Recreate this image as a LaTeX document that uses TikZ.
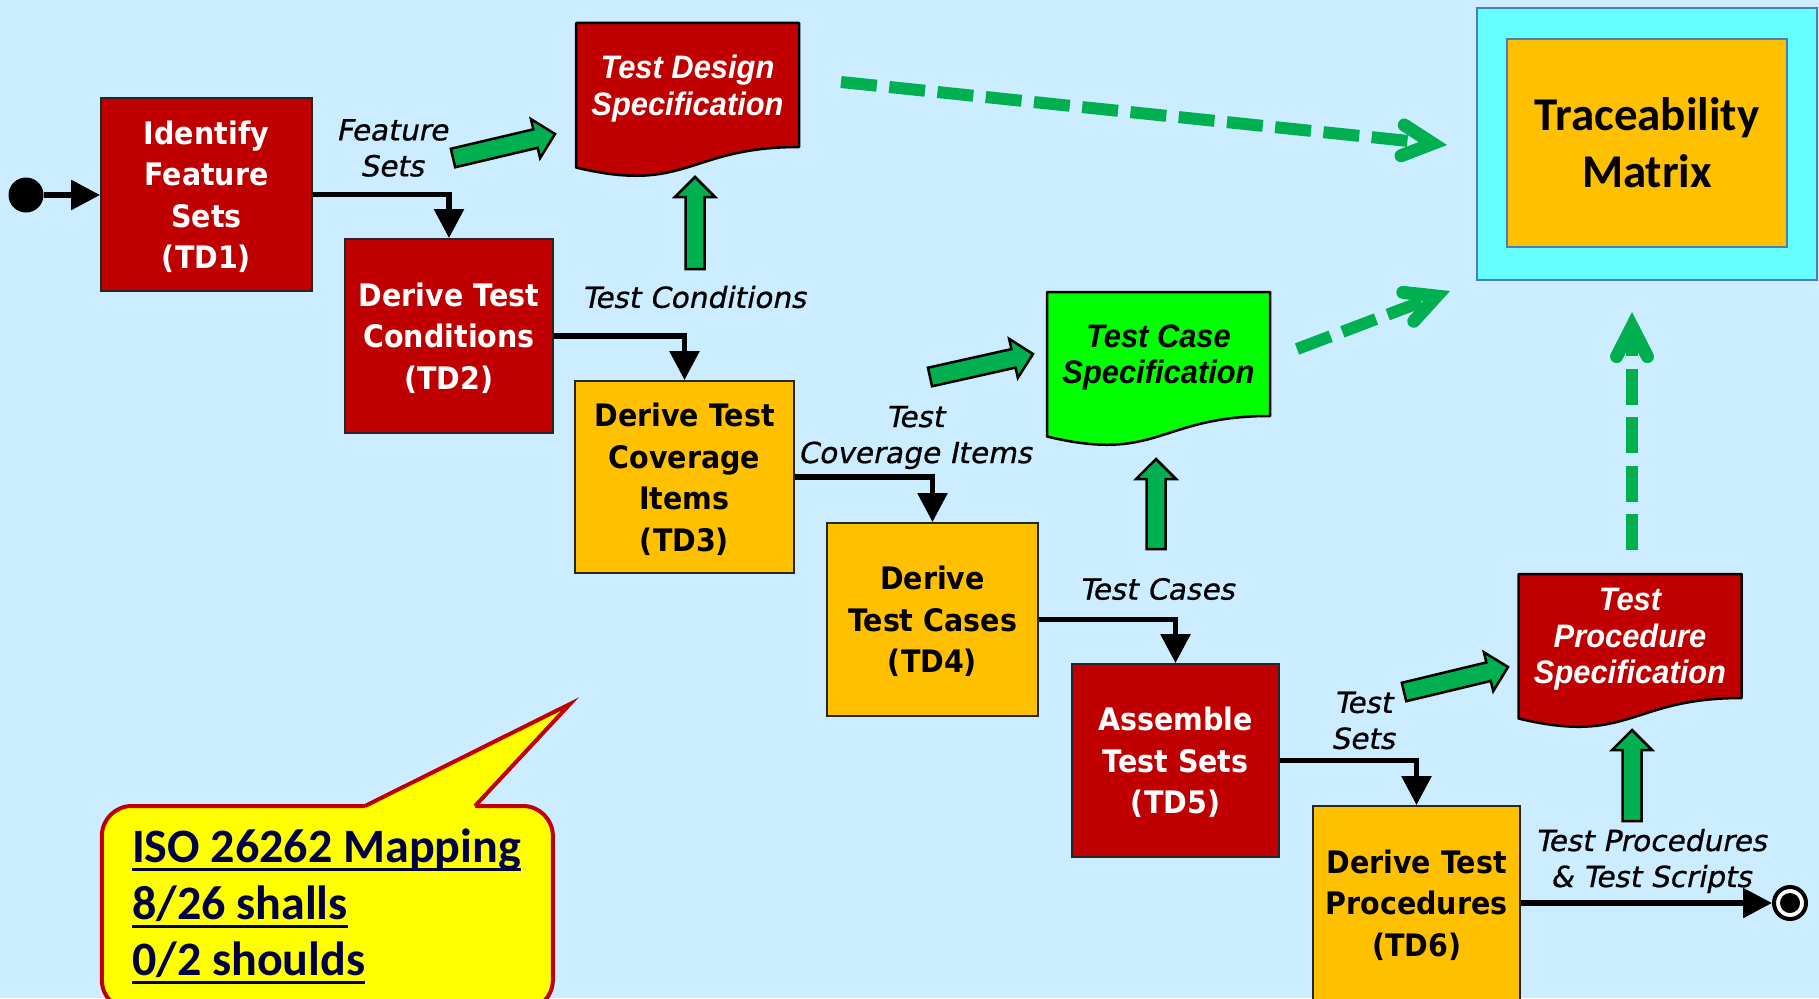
\documentclass[tikz,border=0pt]{standalone}
\usepackage{fontspec}
\usetikzlibrary{arrows.meta,calc}

% Fonts
\newfontfamily\boxfont[FakeStretch=0.92]{DejaVu Sans}
\newfontfamily\tagfont[FakeStretch=1.02,FakeSlant=0.2,FakeBold=0.8]{DejaVu Sans}
\newfontfamily\sheetfont[FakeStretch=0.95]{Liberation Sans}
\newfontfamily\calfont{Carlito}

% Colours
\definecolor{bgblue}{HTML}{CCECFF}
\definecolor{boxred}{HTML}{C00000}
\definecolor{boxorange}{HTML}{FFC000}
\definecolor{arrowgreen}{HTML}{00B050}
\definecolor{docgreen}{HTML}{00FF00}
\definecolor{tmcyan}{HTML}{66FFFF}
\definecolor{tmedge}{HTML}{4A7EBB}
\definecolor{navytext}{HTML}{000040}
\definecolor{noteyellow}{HTML}{FFFF00}

\pgfdeclarelayer{canvas}
\pgfdeclarelayer{sheets}
\pgfsetlayers{canvas,sheets,main}

% underline at a fixed distance below the baseline
\newsavebox\ulbox
\newcommand\ulinetext[1]{\sbox\ulbox{#1}\rlap{\rule[-8.5pt]{\wd\ulbox}{3pt}}\usebox\ulbox}

\tikzset{
  flow/.style={draw=black, line width=5.5pt, -{Triangle[length=29pt,width=29pt]}},
  task/.style={draw=black!85, line width=1.8pt, align=center, inner sep=0pt,
    font=\boxfont\bfseries\fontsize{31}{41.5}\selectfont, text depth=-3pt},
  redtask/.style={task, fill=boxred, text=white},
  ambertask/.style={task, fill=boxorange, text=black},
  tag/.style={align=center, inner sep=0pt, text=black,
    font=\tagfont\fontsize{29}{36}\selectfont},
  sheet/.style={minimum width=223pt, minimum height=124pt, inner sep=0pt, outer sep=0pt,
    align=center, font=\sheetfont\bfseries\itshape\fontsize{32.5}{36.5}\selectfont,
    text depth=-1pt},
  sheetedge/.style={draw=black, line width=2.5pt, line join=round},
  fatarrow/.style={draw=black, fill=arrowgreen, line width=2.5pt, line join=miter},
  tracelink/.style={draw=arrowgreen, line width=12pt, dash pattern=on 36pt off 12.5pt},
  tracehead/.style={draw=arrowgreen, line width=13pt, line cap=round, line join=miter},
}

% green block arrow from #1 (tail) to #2 (tip)
\newcommand\fatarrow[2]{%
  \filldraw[fatarrow] let \p1=(#1), \p2=(#2),
      \n1={atan2(\y2-\y1,\x2-\x1)},
      \n2={veclen(\x2-\x1,\y2-\y1)-20pt} in
    ($(\p1)+(\n1+90:9.5pt)$) --
    ($(\p1)+(\n1:\n2)+(\n1+90:9.5pt)$) --
    ($(\p1)+(\n1:\n2)+(\n1+90:20pt)$) --
    (\p2) --
    ($(\p1)+(\n1:\n2)+(\n1-90:20pt)$) --
    ($(\p1)+(\n1:\n2)+(\n1-90:9.5pt)$) --
    ($(\p1)+(\n1-90:9.5pt)$) -- cycle;}

% dashed trace link with open chevron head, from #1 to #2
\newcommand\tracearrow[2]{%
  \coordinate (apex) at ($(#2)!14.3pt!(#1)$);
  \draw[tracelink] (#1) -- (apex);
  \draw[tracehead] ($(apex)!34pt!27:(#1)$) -- (apex) -- ($(apex)!34pt!-27:(#1)$);}

% document sheet with wavy lower edge around node #1
\newcommand\sheetoutline[2]{%
  \filldraw[sheetedge, fill=#2] (#1.north west) -- (#1.north east) -- (#1.south east)
    .. controls (#1.south) and ($(#1.south)+(0,47.4)$) .. ($(#1.south west)+(0,20.5)$) -- cycle;}

\begin{document}
\begin{tikzpicture}[x=1pt, y=-1pt]
\useasboundingbox (0,0) rectangle (1819,998);
\begin{pgfonlayer}{canvas}
  \fill[bgblue] (0,0) rectangle (1819,998);
\end{pgfonlayer}
\clip (0,0) rectangle (1819,998);

% traceability matrix
\node[draw=tmedge, line width=2pt, fill=tmcyan, minimum width=340pt, minimum height=272pt] (tmframe) at (1647,144) {};
\node[draw=tmedge, line width=2pt, fill=boxorange, minimum width=280pt, minimum height=207pt,
      align=center, font=\calfont\bfseries\fontsize{47}{57}\selectfont] (tm) at (1647,143) {Traceability\\Matrix};

% process steps
\node[redtask, minimum width=211pt, minimum height=193pt] (td1) at (206.5,194.5) {Identify\\Feature\\Sets\\(TD1)};
\node[redtask, minimum width=208pt, minimum height=194pt] (td2) at (449,336) {Derive Test\\Conditions\\(TD2)};
\node[ambertask, minimum width=219pt, minimum height=192pt] (td3) at (684.5,477) {Derive Test\\Coverage\\Items\\(TD3)};
\node[ambertask, minimum width=211pt, minimum height=193pt] (td4) at (932.5,619.5) {Derive\\Test Cases\\(TD4)};
\node[redtask, minimum width=207pt, minimum height=193pt] (td5) at (1175.5,760.5) {Assemble\\Test Sets\\(TD5)};
\node[ambertask, minimum width=207pt, minimum height=194pt] (td6) at (1416.5,903) {Derive Test\\Procedures\\(TD6)};

% start and end
\node[circle, fill=black, inner sep=0pt, minimum size=35pt] (start) at (26,195) {};
\node[circle, draw=black, line width=4pt, fill=white, inner sep=0pt, minimum size=32pt,
      path picture={\fill[black] (path picture bounding box.center) circle (10pt);}] (finish) at (1790,903) {};

% control flow
\draw[flow] (start) -- (start -| td1.west);
\draw[flow] (td1.east) -| (td2.north);
\draw[flow] (td2.east) -| (td3.north);
\draw[flow] (td3.east) -| (td4.north);
\draw[flow] (td4.east) -| (td5.north);
\draw[flow] (td5.east) -| (td6.north);
\draw[flow] (td6) -- (finish);

% work products
\node[sheet, text=white] (tds) at (687.5,85) {Test Design\\Specification};
\node[sheet, text=black] (tcs) at (1158.5,354) {Test Case\\Specification};
\node[sheet, text=white] (tps) at (1630,636) {Test\\Procedure\\Specification};
\begin{pgfonlayer}{sheets}
  \sheetoutline{tds}{boxred}
  \sheetoutline{tcs}{docgreen}
  \sheetoutline{tps}{boxred}
\end{pgfonlayer}

% flow labels
\node[tag] (l1) at (392,148) {Feature\\Sets};
\node[tag] (l2) at (694,297) {Test Conditions};
\node[tag] (l3) at (915,437.5) {Test\\Coverage Items};
\node[tag] (l4) at (1157,589) {Test Cases};
\node[tag] (l5) at (1363,720.5) {Test\\Sets};
\node[tag] (l6) at (1651,861) {Test Procedures\\\& Test Scripts};

% output arrows into the specifications
\coordinate (g1a) at (453,158);  \coordinate (g1b) at (555,134);
\coordinate (g2a) at (695,269);  \coordinate (g2b) at (695,177);
\coordinate (g3a) at (930,377);  \coordinate (g3b) at (1033,354);
\coordinate (g4a) at (1156,549); \coordinate (g4b) at (1156,459);
\coordinate (g5a) at (1404,692); \coordinate (g5b) at (1508,667);
\coordinate (g6a) at (1632,821); \coordinate (g6b) at (1632,730);
\fatarrow{g1a}{g1b}
\fatarrow{g2a}{g2b}
\fatarrow{g3a}{g3b}
\fatarrow{g4a}{g4b}
\fatarrow{g5a}{g5b}
\fatarrow{g6a}{g6b}

% trace links to the matrix
\coordinate (t1a) at (841,82);   \coordinate (t1b) at (1447,145);
\coordinate (t2a) at (1297,349); \coordinate (t2b) at (1450,291);
\coordinate (t3a) at (1632,550); \coordinate (t3b) at (1632,312);
\tracearrow{t1a}{t1b}
\tracearrow{t2a}{t2b}
\tracearrow{t3a}{t3b}

% ISO 26262 callout
\node[draw=boxred, line width=4pt, fill=noteyellow, rounded corners=30pt,
      minimum width=451pt, minimum height=204pt] (note) at (327.35,908) {};
\coordinate (tailL) at (365,806);
\coordinate (tailR) at (475,806);
\coordinate (tailtip) at (570,704);
\fill[noteyellow] (tailL) -- (tailtip) -- (tailR) -- ($(tailR)+(0,3)$) -- ($(tailL)+(0,3)$) -- cycle;
\draw[boxred, line width=4pt, line join=miter] (tailL) -- (tailtip) -- (tailR);
\node[anchor=north west, align=left, inner sep=0pt, text=navytext,
      font=\calfont\bfseries\fontsize{48}{56.5}\selectfont] (iso) at ($(note.north west)+(32,25)$)
      {\ulinetext{ISO 26262 Mapping}\\\ulinetext{8/26 shalls}\\\ulinetext{0/2 shoulds}};
\end{tikzpicture}
\end{document}
